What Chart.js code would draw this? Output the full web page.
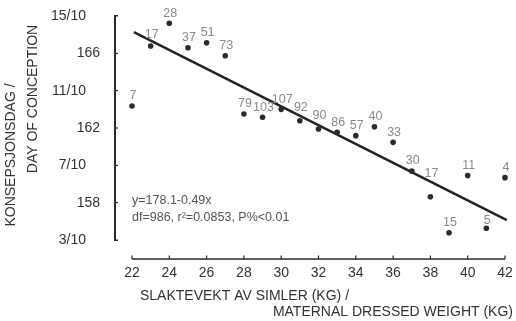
<!DOCTYPE html>
<html><head><meta charset="utf-8">
<script src="https://cdn.jsdelivr.net/npm/chart.js@4.4.1/dist/chart.umd.min.js"></script>
<style>html,body{margin:0;padding:0;background:#fff}#wrap{width:516px;height:321px;position:relative}</style>
</head><body><div id="wrap"><canvas id="c"></canvas></div>
<script>
// Maternal dressed weight (kg) categories
const weights = [22,23,24,25,26,27,28,29,30,31,32,33,34,35,36,37,38,39,40,41,42];
// Mean day of conception (day number)
const conceptionDay = [163.18,166.39,167.61,166.30,166.57,165.87,162.75,162.57,163.00,162.39,161.95,161.77,161.59,162.07,161.23,159.70,158.32,156.39,159.45,156.63,159.34];
// Sample sizes written next to each point
const sampleSizes = ['7','17','28','37','51','73','79','103','107','92','90','86','57','40','33','30','17','15','11','5','4'];
// Regression line end points as drawn
const regressionX = [22.1, 42.1];
const regressionY = [167.13, 157.07];
// Ticks
const xTickValues = [22,24,26,28,30,32,34,36,38,40,42];
const yTickValues = [156,158,160,162,164,166,168];
const yTickLabels = ['3/10','158','7/10','162','11/10','166','15/10'];
// Texts
const xTitleLines = ['SLAKTEVEKT AV SIMLER (KG) /','MATERNAL DRESSED WEIGHT (KG)'];
const yTitleLines = ['KONSEPSJONSDAG /','DAY OF CONCEPTION'];
const equationLines = ['y=178.1-0.49x','df=986, r\u00B2=0.0853, P%<0.01'];

const FONT = '"Liberation Sans", Arial, Helvetica, sans-serif';
const labelDy = {1:-12, 9:-13, 10:-13, 16:-23, 19:-8};

const decor = {
  id: 'decor',
  afterDraw(chart) {
    const ctx = chart.ctx, a = chart.chartArea;
    const xs = chart.scales.x, ys = chart.scales.y;
    ctx.save();
    ctx.setLineDash([]);
    ctx.globalAlpha = 1;
    ctx.fillStyle = '#2a2a2a';
    // y axis line (offset left)
    const ax = Math.round(a.left - 17);
    const yTop = ys.getPixelForValue(168), yBot = ys.getPixelForValue(156);
    ctx.fillRect(ax - 1, yTop - 1, 2, yBot - yTop + 2);
    ctx.fillRect(ax - 1, yTop - 1, 4, 1.5);
    ctx.fillRect(ax - 1, yBot - 0.5, 4, 1.5);
    yTickValues.forEach(v => {
      if (v === 156 || v === 168) return;
      const py = ys.getPixelForValue(v);
      ctx.fillRect(ax, py - 0.6, 3, 1.2);
    });
    // x axis line (offset down)
    const ay = Math.round(a.bottom + 19);
    const x0 = xs.getPixelForValue(22), x1 = xs.getPixelForValue(42);
    ctx.fillRect(x0, ay - 0.75, x1 - x0, 1.5);
    xTickValues.forEach(v => {
      const px = xs.getPixelForValue(v);
      ctx.fillRect(px - 0.6, ay - 3.5, 1.2, 3.5);
    });
    // sample size labels
    const meta = chart.getDatasetMeta(0);
    ctx.fillStyle = '#8a8a8a';
    ctx.font = '12.5px ' + FONT;
    ctx.textAlign = 'center';
    ctx.textBaseline = 'middle';
    meta.data.forEach((pt, i) => {
      const dy = labelDy[i] !== undefined ? labelDy[i] : -10;
      ctx.fillText(sampleSizes[i], pt.x + 1, pt.y + dy);
    });
    // equation
    ctx.fillStyle = '#555';
    ctx.font = '12.5px ' + FONT;
    ctx.textAlign = 'left';
    ctx.fillText(equationLines[0], a.left, a.bottom - 39);
    ctx.fillText(equationLines[1], a.left, a.bottom - 22);
    // x title
    ctx.fillStyle = '#333';
    ctx.font = '14px ' + FONT;
    ctx.textAlign = 'left';
    ctx.fillText(xTitleLines[0], a.left + 8, a.bottom + 56);
    ctx.textAlign = 'right';
    ctx.fillText(xTitleLines[1], a.right + 8, a.bottom + 72);
    // y title (rotated)
    ctx.textAlign = 'center';
    ctx.save();
    ctx.translate(a.left - 121, a.top + 139);
    ctx.rotate(-Math.PI / 2);
    ctx.fillText(yTitleLines[0], 0, 0);
    ctx.restore();
    ctx.save();
    ctx.translate(a.left - 99, a.top + 83);
    ctx.rotate(-Math.PI / 2);
    ctx.fillText(yTitleLines[1], 0, 0);
    ctx.restore();
    ctx.restore();
  }
};

new Chart(document.getElementById('c'), {
  type: 'scatter',
  data: {
    datasets: [
      {
        data: weights.map((w, i) => ({x: w, y: conceptionDay[i]})),
        pointRadius: 2.8,
        pointBackgroundColor: '#2b2b2b',
        pointBorderWidth: 0,
        showLine: false,
        clip: false
      },
      {
        data: regressionX.map((x, i) => ({x: x, y: regressionY[i]})),
        showLine: true,
        pointRadius: 0,
        borderColor: '#242424',
        borderWidth: 2.5,
        clip: false
      }
    ]
  },
  options: {
    responsive: true,
    maintainAspectRatio: false,
    animation: false,
    layout: {padding: {left: 0, top: 16, right: 11, bottom: 0}},
    plugins: {legend: {display: false}, tooltip: {enabled: false}},
    scales: {
      x: {
        type: 'linear', min: 22, max: 42,
        afterBuildTicks: s => { s.ticks = xTickValues.map(v => ({value: v})); },
        afterFit: s => { s.height = 81; s.paddingLeft = 0; s.paddingRight = 0; s.paddingTop = 0; s.paddingBottom = 0; },
        grid: {display: false, drawTicks: false},
        border: {display: false},
        ticks: {padding: 25, color: '#333', font: {family: FONT, size: 14}, maxRotation: 0, autoSkip: false}
      },
      y: {
        type: 'linear', min: 156, max: 168,
        afterBuildTicks: s => { s.ticks = yTickValues.map(v => ({value: v})); },
        afterFit: s => { s.width = 132; s.paddingLeft = 0; s.paddingRight = 0; s.paddingTop = 0; s.paddingBottom = 0; },
        grid: {display: false, drawTicks: false},
        border: {display: false},
        ticks: {
          padding: 32, color: '#333', font: {family: FONT, size: 14}, autoSkip: false,
          callback: (v) => {
            const lab = yTickLabels[yTickValues.indexOf(v)];
            return lab.indexOf('/') >= 0 ? lab + '\u2002\u2002' : lab;
          }
        }
      }
    }
  },
  plugins: [decor]
});
</script>
</body></html>
